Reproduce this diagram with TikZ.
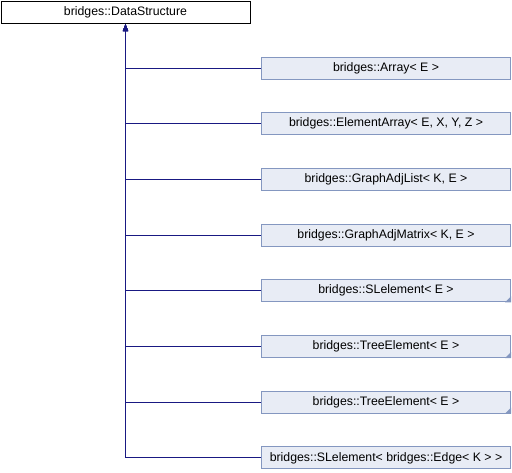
\documentclass[tikz,border=0pt]{standalone}
\usepackage{fontspec}
\setmainfont{Liberation Sans}
\usetikzlibrary{arrows.meta}
\definecolor{edgeblue}{RGB}{25,25,130}
\definecolor{boxfill}{RGB}{232,236,245}
\definecolor{boxline}{RGB}{132,151,192}
\tikzset{
  basebox/.style={draw=black, fill=white, line width=1pt, minimum width=249pt, minimum height=22pt, inner sep=0pt, font=\fontsize{12.3}{14}\selectfont, anchor=north west},
  childbox/.style={draw=boxline, fill=boxfill, line width=1pt, minimum width=249pt, minimum height=22pt, inner sep=0pt, font=\fontsize{12.3}{14}\selectfont},
  corner/.style={fill=boxline},
  edge/.style={draw=edgeblue, line width=1pt, -{Triangle[length=7pt,width=5pt]}}
}
\begin{document}
\begin{tikzpicture}[x=1pt,y=-1pt]
\useasboundingbox (0,0) rectangle (512,472);
\node[basebox] (base) at (0.5,1) {bridges::DataStructure};
\node[childbox] (c1) at (386,68) {bridges::Array< E >};
\node[childbox] (c2) at (386,123.7) {bridges::ElementArray< E, X, Y, Z >};
\node[childbox] (c3) at (386,179.4) {bridges::GraphAdjList< K, E >};
\node[childbox] (c4) at (386,235.1) {bridges::GraphAdjMatrix< K, E >};
\node[childbox] (c5) at (386,290.8) {bridges::SLelement< E >};
\node[childbox] (c6) at (386,346.5) {bridges::TreeElement< E >};
\node[childbox] (c7) at (386,402.2) {bridges::TreeElement< E >};
\node[childbox] (c8) at (386,457.9) {bridges::SLelement< bridges::Edge< K > >};
\foreach \k in {5,6,7} {
  \fill[corner] (c\k.south east) -- ++(-6,0) -- ++(6,-6) -- cycle;
}
\foreach \k in {1,...,8} {
  \draw[edge] (c\k.west) -- (c\k.west -| base.south) -- (base.south);
}
\end{tikzpicture}
\end{document}
